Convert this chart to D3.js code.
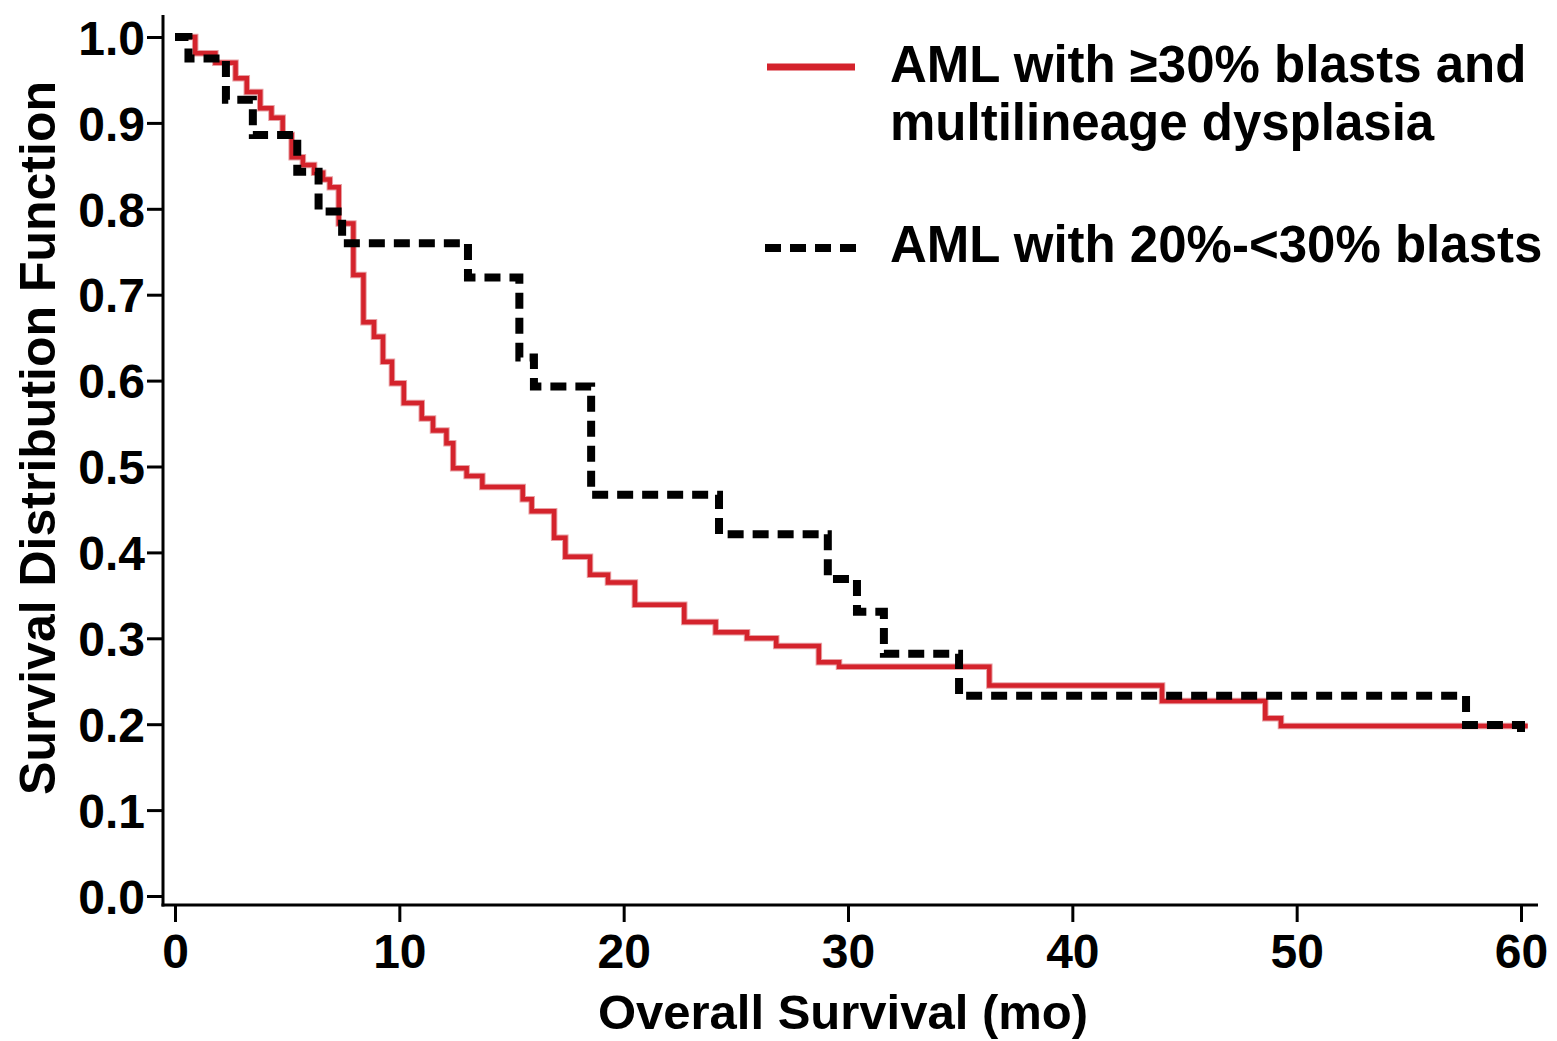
<!DOCTYPE html>
<html lang="en">
<head>
    <meta charset="UTF-8">
    <title>Overall Survival</title>
    <script src="https://cdn.jsdelivr.net/npm/d3@7"></script>
    <style>
        body { margin: 0; background: #FFFFFF; }
        text { font-family: "Liberation Sans", Arial, sans-serif; font-weight: bold; fill: #000000; }
    </style>
</head>
<body>
    <div id="canvas"></div>

    <script>
        // AML with >=30% blasts and multilineage dysplasia
        const redTimes = [0, 0.9, 1.8, 2.7, 3.2, 3.8, 4.3, 4.8, 5.2, 5.7, 6.2, 6.6, 6.9, 7.3, 7.95, 8.4, 8.87, 9.27, 9.67, 10.2, 11.0, 11.5, 12.1, 12.4, 13.0, 13.7, 15.5, 15.9, 16.9, 17.4, 18.5, 19.3, 20.5, 22.7, 24.1, 25.5, 26.8, 28.7, 29.6, 36.3, 44.0, 48.6, 49.3, 60.3];
        const redSurv  = [1.0, 0.981, 0.970, 0.952, 0.936, 0.917, 0.906, 0.886, 0.860, 0.851, 0.842, 0.834, 0.825, 0.783, 0.723, 0.668, 0.651, 0.622, 0.597, 0.574, 0.556, 0.542, 0.527, 0.498, 0.489, 0.476, 0.462, 0.448, 0.417, 0.395, 0.374, 0.365, 0.339, 0.319, 0.307, 0.300, 0.291, 0.272, 0.267, 0.245, 0.227, 0.207, 0.198, 0.198];

        // AML with 20%-<30% blasts
        const blackTimes = [0, 0.6, 2.27, 3.47, 5.45, 6.4, 7.45, 13.06, 15.35, 16.0, 18.55, 24.25, 29.1, 30.4, 31.6, 34.95, 57.55, 60.0, 60.0];
        const blackSurv  = [1.0, 0.975, 0.927, 0.886, 0.843, 0.797, 0.760, 0.720, 0.627, 0.593, 0.467, 0.421, 0.369, 0.331, 0.282, 0.233, 0.199, 0.183, 0.183];

        const xTicks = [0, 10, 20, 30, 40, 50, 60];
        const yTicks = [0, 0.1, 0.2, 0.3, 0.4, 0.5, 0.6, 0.7, 0.8, 0.9, 1.0];

        const legendLabels = [
            ['AML with \u226530% blasts and', 'multilineage dysplasia'],
            ['AML with 20%-<30% blasts']
        ];
    </script>

    <script>
        const width = 1557;
        const height = 1041;

        const svg = d3.select('#canvas')
            .append('svg')
            .attr('width', width)
            .attr('height', height);

        svg.append('rect')
            .attr('width', width)
            .attr('height', height)
            .attr('fill', '#FFFFFF');

        const x = d3.scaleLinear().domain([0, 60]).range([175, 1521]);
        const y = d3.scaleLinear().domain([0, 1]).range([896, 37]);

        const axisX = 163;   // y axis line position
        const axisY = 905;   // x axis line position

        // x axis
        const gx = svg.append('g')
            .attr('transform', `translate(0,${axisY})`)
            .call(d3.axisBottom(x).tickValues(xTicks).tickSize(17).tickSizeOuter(0).tickPadding(12).tickFormat(d3.format('d')));
        gx.select('.domain').remove();
        gx.selectAll('line').attr('stroke', '#000').attr('stroke-width', 3);
        gx.selectAll('text').attr('font-size', 48).attr('font-family', null).attr('dy', '0.71em');

        // y axis
        const gy = svg.append('g')
            .attr('transform', `translate(${axisX},0)`)
            .call(d3.axisLeft(y).tickValues(yTicks).tickSize(16).tickSizeOuter(0).tickPadding(2).tickFormat(d3.format('.1f')));
        gy.select('.domain').remove();
        gy.selectAll('line').attr('stroke', '#000').attr('stroke-width', 3);
        gy.selectAll('text').attr('font-size', 48).attr('font-family', null).attr('dy', '0.36em');

        // axis lines
        svg.append('line')
            .attr('x1', axisX).attr('x2', axisX)
            .attr('y1', 15).attr('y2', axisY + 1.5)
            .attr('stroke', '#000').attr('stroke-width', 3);
        svg.append('line')
            .attr('x1', axisX - 1.5).attr('x2', 1538)
            .attr('y1', axisY).attr('y2', axisY)
            .attr('stroke', '#000').attr('stroke-width', 3);

        // axis titles
        svg.append('text')
            .attr('x', 843)
            .attr('y', 1029)
            .attr('text-anchor', 'middle')
            .attr('font-size', 49)
            .text('Overall Survival (mo)');

        svg.append('text')
            .attr('transform', 'translate(55,438) rotate(-90)')
            .attr('text-anchor', 'middle')
            .attr('font-size', 50)
            .text('Survival Distribution Function');

        // survival curves
        const line = d3.line()
            .x(d => x(d[0]))
            .y(d => y(d[1]))
            .curve(d3.curveStepAfter);

        const redData = redTimes.map((t, i) => [t, redSurv[i]]);
        const blackData = blackTimes.map((t, i) => [t, blackSurv[i]]);

        svg.append('path')
            .datum(redData)
            .attr('d', line)
            .attr('fill', 'none')
            .attr('stroke', '#e8a0a4')
            .attr('stroke-width', 6.5);

        svg.append('path')
            .datum(redData)
            .attr('d', line)
            .attr('fill', 'none')
            .attr('stroke', '#d4232c')
            .attr('stroke-width', 4.5);

        svg.append('path')
            .datum(blackData)
            .attr('d', line)
            .attr('fill', 'none')
            .attr('stroke', '#000')
            .attr('stroke-width', 8)
            .attr('stroke-dasharray', '16,9');

        // legend
        svg.append('line')
            .attr('x1', 767).attr('x2', 855)
            .attr('y1', 67).attr('y2', 67)
            .attr('stroke', '#d4232c')
            .attr('stroke-width', 7);

        svg.append('line')
            .attr('x1', 765).attr('x2', 857)
            .attr('y1', 248).attr('y2', 248)
            .attr('stroke', '#000')
            .attr('stroke-width', 8)
            .attr('stroke-dasharray', '16,9');

        const leg1 = svg.append('text')
            .attr('x', 890)
            .attr('y', 82)
            .attr('font-size', 51);
        leg1.selectAll('tspan')
            .data(legendLabels[0])
            .enter()
            .append('tspan')
            .attr('x', 890)
            .attr('dy', (d, i) => i === 0 ? 0 : 58)
            .text(d => d);

        svg.append('text')
            .attr('x', 890)
            .attr('y', 262)
            .attr('font-size', 51)
            .text(legendLabels[1][0]);
    </script>
</body>
</html>
